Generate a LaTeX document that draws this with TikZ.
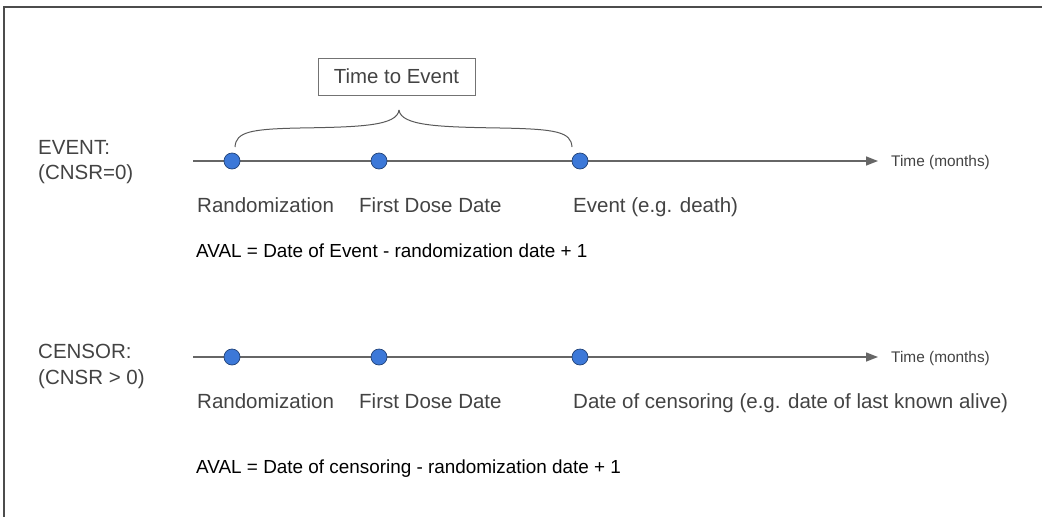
\documentclass[tikz,border=0pt]{standalone}
\usepackage{fontspec}
\setmainfont{Liberation Sans}
\usetikzlibrary{arrows.meta,positioning}
\definecolor{dotblue}{HTML}{3C78D8}
\definecolor{txtgray}{HTML}{434343}

\begin{document}
\begin{tikzpicture}[x=1pt,y=-1pt,
		dot/.style={circle,fill=dotblue,draw=dotblue!55!black,line width=0.7pt,inner sep=0pt,minimum size=16pt},
		tline/.style={draw=black!60,line width=1.4pt,-{Triangle[length=12pt,width=9pt]}},
		lbl/.style={anchor=base west,inner sep=0pt,text=txtgray,font=\fontsize{20.5}{24}\selectfont},
		aval/.style={anchor=base west,inner sep=0pt,font=\fontsize{18.9}{22}\selectfont},
		unit/.style={anchor=base west,inner sep=0pt,text=txtgray,font=\fontsize{15.4}{18}\selectfont}]
				\useasboundingbox (0,0) rectangle (1042,517);
				\draw[black!70,line width=1.2pt] (1042,7) -- (4,7) -- (4,517);
				% event row
				\node[lbl] (ev) at (38,154) {EVENT:};
				\node[lbl] (evc) at (38,179) {(CNSR=0)};
				\coordinate (s1) at (193,161);
				\coordinate (e1) at (878,161);
				\draw[tline] (s1) -- (e1);
				\node[unit] (tm1) at (891,166) {Time (months)};
				\node[dot] (r1) at (232,161) {};
				\node[dot] (f1) at (379,161) {};
				\node[dot] (d1) at (580,161) {};
				\node[lbl] (rl1) at (197,212) {Randomization};
				\node[lbl] (fl1) at (359,212) {First Dose Date};
				\node[lbl] (dl1) at (573,212) {Event (e.g. death)};
				\node[aval] (av1) at (196,257) {AVAL = Date of Event - randomization date + 1};
				% brace and box
				\draw[black!65,line width=1pt] (235,147) .. controls (236,132) and (250,129) .. (300,128) .. controls (360,127) and (397,126) .. (399,110);
				\draw[black!65,line width=1pt] (572,147) .. controls (571,132) and (557,129) .. (500,128) .. controls (440,127) and (401,126) .. (399,110);
				\node[draw=black!55,line width=1pt,minimum width=157pt,minimum height=37pt,inner sep=0pt,text=txtgray,font=\fontsize{20.4}{24}\selectfont] (tte) at (396.5,76.5) {Time to Event};
				% censor row
				\node[lbl] (ce) at (38,358) {CENSOR:};
				\node[lbl] (cec) at (38,384) {(CNSR > 0)};
				\coordinate (s2) at (193,357);
				\coordinate (e2) at (878,357);
				\draw[tline] (s2) -- (e2);
				\node[unit] (tm2) at (891,362) {Time (months)};
				\node[dot] (r2) at (232,357) {};
				\node[dot] (f2) at (379,357) {};
				\node[dot] (d2) at (580,357) {};
				\node[lbl] (rl2) at (197,408) {Randomization};
				\node[lbl] (fl2) at (359,408) {First Dose Date};
				\node[lbl] (dl2) at (573,408) {Date of censoring (e.g. date of last known alive)};
				\node[aval] (av2) at (196,473) {AVAL = Date of censoring - randomization date + 1};
		\end{tikzpicture}
\end{document}
